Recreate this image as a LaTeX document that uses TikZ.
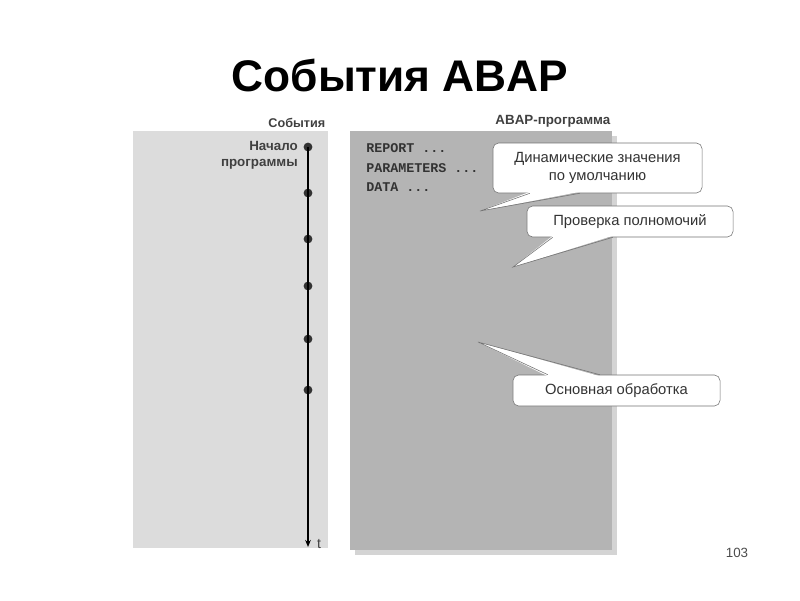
\documentclass[tikz,border=0pt]{standalone}
\usepackage{fontspec}
\setmainfont{Liberation Sans}
\setmonofont{Liberation Mono}
\usetikzlibrary{calc, arrows.meta, positioning}
\definecolor{panelEvents}{RGB}{220,220,220}
\definecolor{panelProg}{RGB}{180,180,180}
\definecolor{panelShadow}{RGB}{212,212,212}
\definecolor{labelGray}{RGB}{64,64,64}

\tikzset{
  callout/.style={draw=black!55, fill=white, rounded corners=4pt, align=center,
    inner sep=0pt, text=black!80, font=\fontsize{10.5}{13}\selectfont},
  evdot/.style={circle, fill=black!80, inner sep=0pt, minimum size=0.22cm},
  codeline/.style={anchor=west, font=\ttfamily\bfseries\fontsize{9.5}{11}\selectfont, text=black!80, inner sep=0pt},
  header/.style={anchor=south east, font=\bfseries\fontsize{9.5}{11}\selectfont, text=labelGray, inner sep=1pt}
}

\begin{document}
\begin{tikzpicture}[x=0.025cm, y=-0.025cm]
    \useasboundingbox (0,0) rectangle (800,600);
    % title
    \node[font=\bfseries\fontsize{31.5}{36}\selectfont] (title) at (400,75) {События ABAP};
    % panels
    \fill[panelEvents] (133,131) rectangle (328,548);
    \fill[panelShadow] (355,136) rectangle (617,555);
    \fill[panelProg] (350,131) rectangle (612,550);
    \node[header, font=\bfseries\fontsize{9}{11}\selectfont] (hEvents) at (327,129) {События};
    \node[header] (hProg) at (612,129) {ABAP-программа};
    % timeline
    \foreach \i/\y in {1/147, 2/193, 3/239, 4/286, 5/339, 6/390} {
        \node[evdot] (ev\i) at (308,\y) {};
    }
    \coordinate (tEnd) at (308,547);
    \draw[thick, -{Stealth[length=5pt, width=4pt]}] (ev1.center) -- (tEnd);
    \node[inner sep=0pt, font=\fontsize{10}{11}\selectfont, text=labelGray] (tLabel) at (319,544) {t};
    \node[anchor=north east, align=right, inner sep=0pt, font=\bfseries\fontsize{9.5}{11.5}\selectfont, text=labelGray] (start) at (298,141) {Начало\\программы};
    % program code
    \node[codeline] (cReport) at (366,148) {REPORT ...};
    \node[codeline] (cParam) at (366,168) {PARAMETERS ...};
    \node[codeline] (cData) at (366,187) {DATA ...};
    % callouts
    \node[callout, minimum width=5.225cm, minimum height=1.25cm] (box1) at (597.5,168) {Динамические значения\\по умолчанию};
    \coordinate (tip1) at (480,211);
    \fill[white] ($(box1.south west)!0.177!(box1.south east)+(0,-1.5)$) -- (tip1) -- ($(box1.south west)!0.416!(box1.south east)+(0,-1.5)$) -- cycle;
    \draw[black!55] ($(box1.south west)!0.177!(box1.south east)$) -- (tip1) -- ($(box1.south west)!0.416!(box1.south east)$);

    \node[callout, minimum width=5.15cm, minimum height=0.775cm] (box2) at (630,221.5) {Проверка полномочий};
    \coordinate (tip2) at (513,267);
    \fill[white] ($(box2.south west)!0.126!(box2.south east)+(0,-1.5)$) -- (tip2) -- ($(box2.south west)!0.417!(box2.south east)+(0,-1.5)$) -- cycle;
    \draw[black!55] ($(box2.south west)!0.126!(box2.south east)$) -- (tip2) -- ($(box2.south west)!0.417!(box2.south east)$);

    \node[callout, minimum width=5.175cm, minimum height=0.775cm] (box3) at (616.5,390.5) {Основная обработка};
    \coordinate (tip3) at (478,342);
    \fill[white] ($(box3.north west)!0.169!(box3.north east)+(0,1.5)$) -- (tip3) -- ($(box3.north west)!0.42!(box3.north east)+(0,1.5)$) -- cycle;
    \draw[black!55] ($(box3.north west)!0.169!(box3.north east)$) -- (tip3) -- ($(box3.north west)!0.42!(box3.north east)$);
    % page number
    \node[font=\fontsize{9.5}{11}\selectfont, text=black!70] (page) at (737,553) {103};
\end{tikzpicture}
\end{document}
